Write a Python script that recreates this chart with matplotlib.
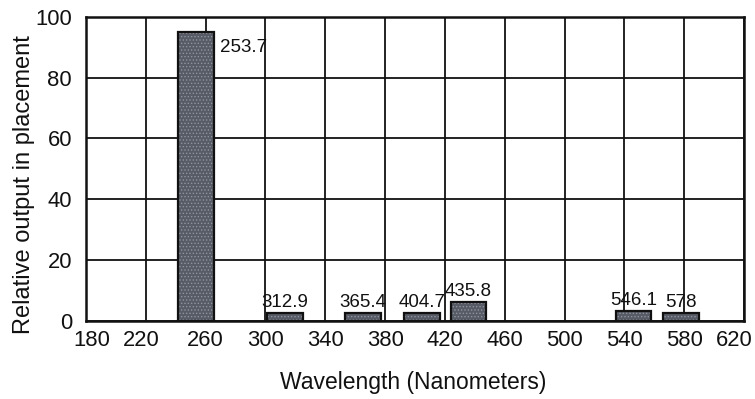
import matplotlib
matplotlib.use("Agg")
import matplotlib.pyplot as plt
from matplotlib.transforms import ScaledTranslation

# Data
wavelengths = [253.7, 312.9, 365.4, 404.7, 435.8, 546.1, 578]
labels = ["253.7", "312.9", "365.4", "404.7", "435.8", "546.1", "578"]
outputs = [95, 2.5, 2.5, 2.5, 6, 3.3, 2.7]
x_ticks = [180, 220, 260, 300, 340, 380, 420, 460, 500, 540, 580, 620]
y_ticks = [0, 20, 40, 60, 80, 100]

plt.rcParams['font.family'] = ['Liberation Sans', 'DejaVu Sans']
plt.rcParams['hatch.linewidth'] = 0.6

fig = plt.figure(figsize=(7.55, 3.99), dpi=100)
ax = fig.add_axes([0.1139, 0.1962, 0.8715, 0.7612])

bar_w = 24
# textured fill
ax.bar(wavelengths, outputs, width=bar_w, color='#575b65', edgecolor='#8f959f',
       linewidth=0, hatch='.....', zorder=3)
# outline
ax.bar(wavelengths, outputs, width=bar_w, fill=False, edgecolor='#111111',
       linewidth=1.6, zorder=4)

for i, (x, y, lab) in enumerate(zip(wavelengths, outputs, labels)):
    if i == 0:
        ax.annotate(lab, xy=(x + bar_w / 2, 90), xytext=(6, 0),
                    textcoords='offset pixels', ha='left', va='center',
                    fontsize=13.5, color='#111111', zorder=5)
    else:
        ax.annotate(lab, xy=(x, y), xytext=(0, 6),
                    textcoords='offset pixels', ha='center', va='baseline',
                    fontsize=13.5, color='#111111', zorder=5)

ax.set_xlim(180, 620)
ax.set_ylim(0, 100)
ax.set_xticks(x_ticks)
ax.set_yticks(y_ticks)
ax.grid(True, color='#111111', linewidth=1.3, zorder=1)
ax.set_axisbelow(True)
for s in ax.spines.values():
    s.set_linewidth(1.8)
    s.set_color('#111111')
ax.tick_params(axis='x', length=0, pad=7, labelsize=15.8, colors='#111111')
ax.tick_params(axis='y', length=0, pad=10, labelsize=15.8, colors='#111111')

# nudge edge tick labels as in the reference
xlabs = ax.get_xticklabels()
shifts = {0: 6, 1: -5, len(xlabs) - 1: -10}
for idx, dx in shifts.items():
    lab = xlabs[idx]
    lab.set_transform(lab.get_transform() + ScaledTranslation(dx / 100, 0, fig.dpi_scale_trans))

ax.set_xlabel('Wavelength (Nanometers)', fontsize=16.5, color='#111111')
ax.set_ylabel('Relative output in placement', fontsize=17, color='#111111')
ax.xaxis.set_label_coords(0.497, -0.165)
ax.yaxis.set_label_coords(-0.078, 0.448)

fig.savefig('out.png', dpi=100)
